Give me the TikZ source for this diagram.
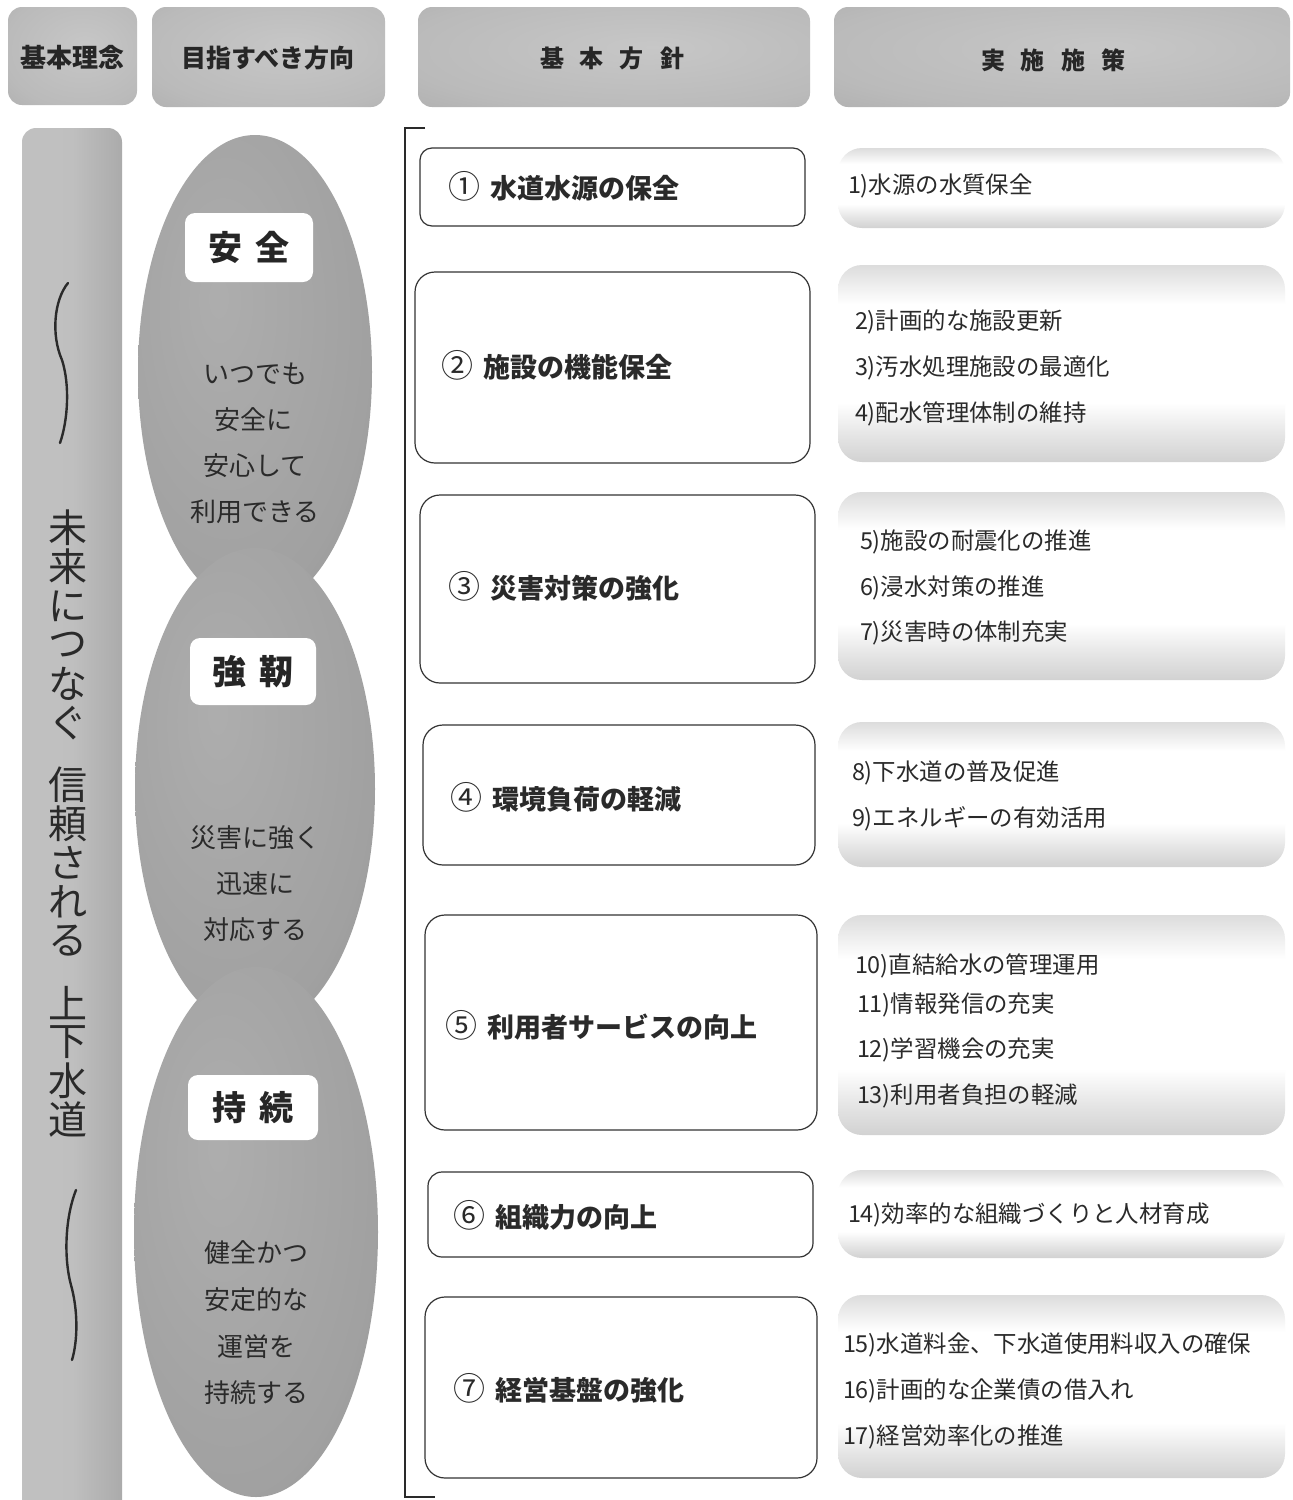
\documentclass[tikz,border=0pt]{standalone}
\usepackage{fontspec}
\newfontfamily\jp{Noto Sans CJK JP}
\usetikzlibrary{shapes.geometric}
\definecolor{ink}{HTML}{2A2A2A}
\pgfdeclareradialshading{ellshade}{\pgfpoint{-8bp}{8bp}}{color(0bp)=(black!32); color(30bp)=(black!37); color(46bp)=(black!45); color(56bp)=(black!58); color(80bp)=(black!58)}
\pgfdeclareradialshading{hdrshade}{\pgfpoint{5bp}{5bp}}{color(0bp)=(black!22); color(30bp)=(black!27); color(55bp)=(black!36); color(75bp)=(black!44)}
\pgfdeclarehorizontalshading{barshade}{100bp}{color(0bp)=(black!24); color(50bp)=(black!25); color(75bp)=(black!33); color(90bp)=(black!45); color(100bp)=(black!58)}
\pgfdeclareverticalshading{bandshade}{100bp}{color(0bp)=(black!34); color(15bp)=(black!29); color(32bp)=(black!10); color(40bp)=(white); color(65bp)=(white); color(76bp)=(black!15); color(100bp)=(black!30)}
\newcommand{\cnum}[1]{{\mdseries\fontsize{16}{16}\selectfont #1}\hspace{0.4em}}
\begin{document}
\begin{tikzpicture}[x=0.5pt,y=-0.5pt,
  every node/.style={inner sep=0pt,outer sep=0pt,font=\jp,text=ink},
  hdrbox/.style={shade,shading=hdrshade,rounded corners=7pt},
  hdrtxt/.style={font=\jp\bfseries\fontsize{13}{13}\selectfont,text=black!85},
  ellnode/.style={ellipse,shade,shading=ellshade},
  lblbox/.style={fill=white,rounded corners=5pt,font=\jp\bfseries\fontsize{17}{17}\selectfont,text=black!85},
  elltxt/.style={font=\jp\fontsize{13}{13}\selectfont},
  vtxt/.style={font=\jp\fontsize{19.5}{19.5}\selectfont},
  midbox/.style={draw=black!80,line width=0.6pt,fill=white,rounded corners=10pt},
  mtxt/.style={anchor=west,font=\jp\bfseries\fontsize{13.5}{13.5}\selectfont},
  rbox/.style={shade,shading=bandshade,rounded corners=12pt},
  rtxt/.style={anchor=west,font=\jp\fontsize{11.7}{11.7}\selectfont},
  wave/.style={draw=ink,line width=1.2pt,line cap=round},
  bracket/.style={draw=ink,line width=0.8pt}]
\useasboundingbox (0,0) rectangle (1292,1500);
\fill[white] (0,0) rectangle (1292,1500);

% headers
\node (h1) [hdrbox,minimum width=64.5pt,minimum height=49pt] at (72.5,56) {};
\node (h2) [hdrbox,minimum width=116.5pt,minimum height=50pt] at (268.5,57) {};
\node (h3) [hdrbox,minimum width=196pt,minimum height=50pt] at (614,57) {};
\node (h4) [hdrbox,minimum width=228pt,minimum height=50pt] at (1062,57) {};
\node (h1t) [hdrtxt] at (72,58) {基本理念};
\node (h2t) [hdrtxt,font=\jp\bfseries\fontsize{12.5}{12.5}\selectfont] at (268,58) {目指すべき方向};
\node (h3t) [hdrtxt,font=\jp\bfseries\fontsize{12}{12}\selectfont] at (612,58) {基\hspace{8pt}本\hspace{8pt}方\hspace{8pt}針};
\node (h4t) [hdrtxt,font=\jp\bfseries\fontsize{12}{12}\selectfont] at (1053,60) {実\hspace{8pt}施\hspace{8pt}施\hspace{8pt}策};

% left bar
\shade[shading=barshade,rounded corners=7pt] (22,1540) rectangle (122,128);
\draw[wave] (68,283) .. controls (54,300) and (51,335) .. (62,360) .. controls (70,385) and (68,420) .. (60,443);
\draw[wave] (76,1190) .. controls (66,1215) and (63,1255) .. (71,1285) .. controls (78,1310) and (78,1340) .. (72,1360);
\foreach \ch/\yy [count=\i] in {未/528,来/567,に/606,つ/645,な/684,ぐ/723,信/785,頼/824,さ/863,れ/902,る/941,上/1003,下/1042,水/1081,道/1120}
  \node (v\i) [vtxt] at (68,\yy) {\ch};

% ellipses
\node (e1) [ellnode,minimum width=117pt,minimum height=237pt] at (255,372) {};
\node (e2) [ellnode,minimum width=120pt,minimum height=241pt] at (255,789) {};
\node (e3) [ellnode,minimum width=122pt,minimum height=265pt] at (256,1232) {};
\node (l1) [lblbox,minimum width=64pt,minimum height=34.5pt] at (249,247.5) {安\hspace{7pt}全};
\node (l2) [lblbox,minimum width=63pt,minimum height=33.5pt] at (253,671.5) {強\hspace{7pt}靭};
\node (l3) [lblbox,minimum width=65pt,minimum height=32.5pt] at (253,1107.5) {持\hspace{7pt}続};
\node (a1) [elltxt] at (255,374) {いつでも};
\node (a2) [elltxt] at (253,420) {安全に};
\node (a3) [elltxt] at (255,466) {安心して};
\node (a4) [elltxt] at (255,512) {利用できる};
\node (b1) [elltxt] at (255,838) {災害に強く};
\node (b2) [elltxt] at (255,884) {迅速に};
\node (b3) [elltxt] at (255,930) {対応する};
\node (c1) [elltxt] at (256,1253) {健全かつ};
\node (c2) [elltxt] at (256,1300) {安定的な};
\node (c3) [elltxt] at (256,1347) {運営を};
\node (c4) [elltxt] at (256,1393) {持続する};

% bracket
\coordinate (bt) at (425,128);
\coordinate (btc) at (405,128);
\coordinate (bbc) at (405,1497);
\coordinate (bb) at (435,1497);
\draw[bracket] (bt) -- (btc) -- (bbc) -- (bb);

% middle boxes
\node (m1) [midbox,rounded corners=6pt,minimum width=192.5pt,minimum height=39pt] at (612.5,187) {};
\node (m2) [midbox,minimum width=197.5pt,minimum height=95.5pt] at (612.5,367.5) {};
\node (m3) [midbox,minimum width=197.5pt,minimum height=94pt] at (617.5,589) {};
\node (m4) [midbox,minimum width=196pt,minimum height=70pt] at (619,795) {};
\node (m5) [midbox,minimum width=196pt,minimum height=107.5pt] at (621,1022.5) {};
\node (m6) [midbox,rounded corners=7pt,minimum width=192.5pt,minimum height=42.5pt] at (620.5,1214.5) {};
\node (m7) [midbox,minimum width=196pt,minimum height=90.5pt] at (621,1387.5) {};
\node (t1) [mtxt] at (448,186) {\cnum{①}水道水源の保全};
\node (t2) [mtxt] at (441,365) {\cnum{②}施設の機能保全};
\node (t3) [mtxt] at (448,586) {\cnum{③}災害対策の強化};
\node (t4) [mtxt] at (450,797) {\cnum{④}環境負荷の軽減};
\node (t5) [mtxt] at (445,1025) {\cnum{⑤}利用者サービスの向上};
\node (t6) [mtxt] at (453,1215) {\cnum{⑥}組織力の向上};
\node (t7) [mtxt] at (453,1388) {\cnum{⑦}経営基盤の強化};

% right boxes
\node (r1) [rbox,minimum width=223.5pt,minimum height=40pt] at (1061.5,188) {};
\node (r2) [rbox,minimum width=223.5pt,minimum height=98.5pt] at (1061.5,363.5) {};
\node (r3) [rbox,minimum width=223.5pt,minimum height=94pt] at (1061.5,586) {};
\node (r4) [rbox,minimum width=223.5pt,minimum height=72.5pt] at (1061.5,794.5) {};
\node (r5) [rbox,minimum width=223.5pt,minimum height=110pt] at (1061.5,1025) {};
\node (r6) [rbox,minimum width=223.5pt,minimum height=44pt] at (1061.5,1214) {};
\node (r7) [rbox,minimum width=223.5pt,minimum height=91.5pt] at (1061.5,1386.5) {};
\node (s1) [rtxt] at (848,186) {1)水源の水質保全};
\node (s2) [rtxt] at (855,322) {2)計画的な施設更新};
\node (s3) [rtxt] at (855,368) {3)汚水処理施設の最適化};
\node (s4) [rtxt] at (855,414) {4)配水管理体制の維持};
\node (s5) [rtxt] at (860,542) {5)施設の耐震化の推進};
\node (s6) [rtxt] at (860,588) {6)浸水対策の推進};
\node (s7) [rtxt] at (860,633) {7)災害時の体制充実};
\node (s8) [rtxt] at (852,773) {8)下水道の普及促進};
\node (s9) [rtxt] at (852,819) {9)エネルギーの有効活用};
\node (s10) [rtxt] at (855,966) {10)直結給水の管理運用};
\node (s11) [rtxt] at (857,1005) {11)情報発信の充実};
\node (s12) [rtxt] at (857,1050) {12)学習機会の充実};
\node (s13) [rtxt] at (857,1096) {13)利用者負担の軽減};
\node (s14) [rtxt] at (848,1215) {14)効率的な組織づくりと人材育成};
\node (s15) [rtxt] at (843,1345) {15)水道料金、下水道使用料収入の確保};
\node (s16) [rtxt] at (843,1391) {16)計画的な企業債の借入れ};
\node (s17) [rtxt] at (843,1437) {17)経営効率化の推進};
\end{tikzpicture}
\end{document}
